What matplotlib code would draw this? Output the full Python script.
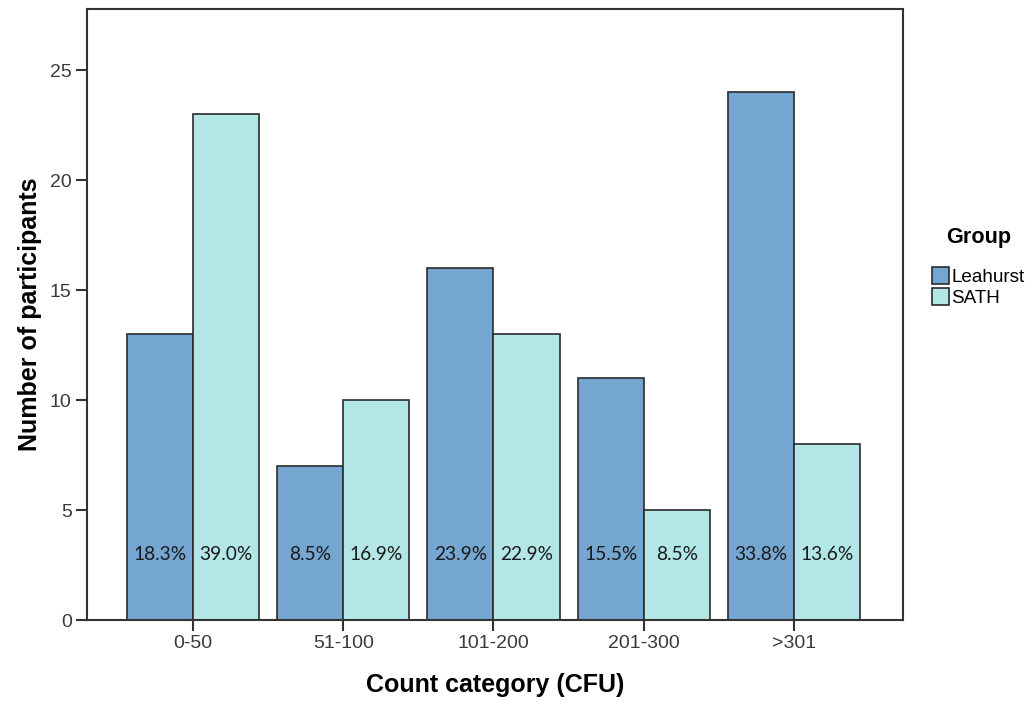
import numpy as np
import matplotlib.pyplot as plt

categories = ['0-50', '51-100', '101-200', '201-300', '>301']
leahurst = [13, 7, 16, 11, 24]
sath = [23, 10, 13, 5, 8]
leahurst_pct = ['18.3%', '8.5%', '23.9%', '15.5%', '33.8%']
sath_pct = ['39.0%', '16.9%', '22.9%', '8.5%', '13.6%']

plt.rcParams['font.family'] = ['Liberation Sans', 'DejaVu Sans']

fig = plt.figure(figsize=(10.29, 7.02), dpi=100)
ax = fig.add_axes([0.0845, 0.1168, 0.7931, 0.8702])

x = np.arange(len(categories))
w = 0.44
edge = '#2b2b2b'
b1 = ax.bar(x - w / 2, leahurst, w, color='#74a6d1', edgecolor=edge, linewidth=1.2, label='Leahurst')
b2 = ax.bar(x + w / 2, sath, w, color='#b3e6e6', edgecolor=edge, linewidth=1.2, label='SATH')

for xi, p in zip(x - w / 2, leahurst_pct):
    ax.text(xi, 3.0, p, ha='center', va='center', fontsize=13.8, family='Lato', color='#1a1a1a')
for xi, p in zip(x + w / 2, sath_pct):
    ax.text(xi, 3.0, p, ha='center', va='center', fontsize=13.8, family='Lato', color='#1a1a1a')

ax.set_xlim(-0.707, 4.727)
ax.set_ylim(0, 27.77)
ax.set_xticks(x)
ax.set_xticklabels(categories)
ax.set_yticks([0, 5, 10, 15, 20, 25])
ax.tick_params(axis='both', direction='out', length=8, width=1.5, color='#333333',
               labelsize=14, labelcolor='#3a3a3a', pad=3)

for s in ax.spines.values():
    s.set_color('#333333')
    s.set_linewidth(1.5)

ax.set_xlabel('Count category (CFU)', fontsize=18, fontweight='bold', labelpad=15)
ax.set_ylabel('Number of participants', fontsize=18, fontweight='bold', labelpad=6)

leg = fig.legend(handles=[b1, b2], loc='upper left', bbox_to_anchor=(0.906, 0.677),
                 title='Group', frameon=False, fontsize=13.6, handlelength=0.9, handleheight=0.98,
                 handletextpad=0.12, labelspacing=0.12, borderaxespad=0, borderpad=0)
leg.get_title().set_fontweight('bold')
leg.get_title().set_fontsize(15.6)
leg._legend_box.sep = 14

fig.savefig('out.png', dpi=100)
